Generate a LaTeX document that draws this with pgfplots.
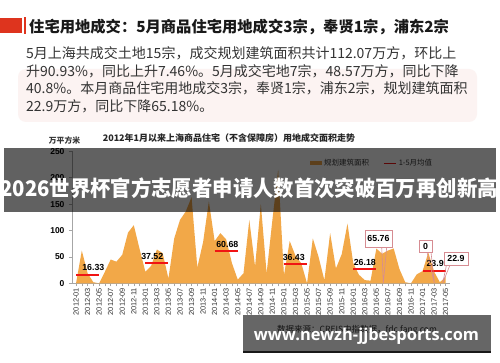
\documentclass[border=0pt]{standalone}
\usepackage{fontspec}
\usepackage{pgfplots}
\pgfplotsset{compat=1.18}
\setmainfont{Noto Sans CJK SC}
\newfontfamily\lsans{Liberation Sans}
\newfontfamily\osans{Open Sans}
\definecolor{areaC}{RGB}{242,168,72}
\definecolor{hdrred}{RGB}{222,52,30}
\definecolor{txt}{RGB}{51,51,51}
\definecolor{pinkbg}{RGB}{252,243,242}
\definecolor{callb}{RGB}{214,140,146}
\definecolor{avgred}{RGB}{240,20,20}
\begin{document}
\begin{tikzpicture}[x=1pt,y=1pt]
\path[use as bounding box] (0,0) rectangle (500,362);
\fill[white] (0,0) rectangle (500,362);
% header
\fill[hdrred] (0,362-33) rectangle (22,362-18);
\fill[hdrred] (23.5,362-34) rectangle (26,362-17);
\node[anchor=west, inner sep=0, font=\bfseries\fontsize{15.3}{17}\selectfont, text=black!90] at (29,362-27.5) {住宅用地成交：5月商品住宅用地成交3宗，奉贤1宗，浦东2宗};
\fill[pinkbg, rounded corners=8pt] (18,362-122) rectangle (477,362-69);
\begin{scope}[every node/.style={anchor=west, inner sep=0, text=txt, font=\fontsize{14}{16}\selectfont}]
\node at (26,362-53) {5月上海共成交土地15宗，成交规划建筑面积共计112.07万方，环比上};
\node at (26,362-71) {升90.93\%，同比上升7.46\%。5月成交宅地7宗，48.57万方，同比下降};
\node at (26,362-88) {40.8\%。本月商品住宅用地成交3宗，奉贤1宗，浦东2宗，规划建筑面积};
\node at (26,362-106) {22.9万方，同比下降65.18\%。};
\end{scope}
% chart titles
\node[font=\bfseries\fontsize{9}{10}\selectfont, text=black!85] at (229,362-138.5) {2012年1月以来上海商品住宅（不含保障房）用地成交面积走势};
\node[font=\bfseries\fontsize{7.8}{9}\selectfont, text=black!80] at (64.5,362-140.5) {万平方米};
\begin{axis}[
  at={(76.04pt,78.7pt)}, anchor=origin,
  scale only axis, width=377.7pt, height=132pt,
  xmin=-0.7, xmax=64.7, ymin=0, ymax=250,
  axis x line*=bottom, axis y line*=left,
  axis line style={draw=gray!70, line width=0.6pt, -},
  xtick={0,2,...,64}, minor xtick={1,3,...,63},
  xticklabels={2012-01,2012-03,2012-05,2012-07,2012-09,2012-11,2013-01,2013-03,2013-05,2013-07,2013-09,2013-11,2014-01,2014-03,2014-05,2014-07,2014-09,2014-11,2015-01,2015-03,2015-05,2015-07,2015-09,2015-11,2016-01,2016-03,2016-05,2016-07,2016-09,2016-11,2017-01,2017-03,2017-05},
  xticklabel style={rotate=90, anchor=east, font=\lsans\fontsize{7.4}{8}\selectfont, text=txt, inner sep=1.5pt},
  ytick={0,50,...,250},
  yticklabel style={font=\lsans\bfseries\fontsize{8.5}{9}\selectfont, text=black, xshift=-1pt},
  /pgf/number format/assume math mode=true,
  tick style={draw=gray!70, line width=0.5pt},
  tick align=outside, major tick length=3pt, minor tick length=3pt,
  clip=false,
  legend style={at={(0.630,0.909)}, anchor=west, draw=none, fill=none, legend columns=2,
    font=\fontsize{7.5}{8}\selectfont, text=txt, inner sep=0pt,
    /tikz/every even column/.append style={column sep=12pt}},
  legend cell align=left,
]
\addplot[fill=areaC, draw=none,
  legend image code/.code={\fill[areaC] (0pt,-2pt) rectangle (12pt,2.5pt);}]
coordinates {(0,0)(1,62)(2,19)(3,2)(4,0)(5,22)(6,45)(7,41)(8,54)(9,96)(10,110)(11,65)(12,22)(13,33)(14,64)(15,57)(16,9)(17,85)(18,120)(19,136)(20,163)(21,30)(22,78)(23,155)(24,80)(25,95)(26,83)(27,38)(28,7)(29,19)(30,120)(31,32)(32,150)(33,19)(34,120)(35,215)(36,15)(37,80)(38,52)(39,38)(40,0)(41,85)(42,50)(43,6)(44,95)(45,28)(46,55)(47,113)(48,38)(49,16)(50,6)(51,5)(52,65.76)(53,56)(54,62)(55,66)(56,27)(57,2)(58,0)(59,17)(60,23)(61,58)(62,22)(63,2)(64,12)} \closedcycle;
\addlegendentry{规划建筑面积}
\addplot[avgred, line width=2pt,
  legend image code/.code={\draw[avgred,line width=1.6pt] (0pt,0pt) -- (12pt,0pt);}]
coordinates {(0,16.33)(4,16.33)};
\addlegendentry{1-5月均值}
\addplot[avgred, line width=2pt, forget plot] coordinates {(12,37.52)(16,37.52)};
\addplot[avgred, line width=2pt, forget plot] coordinates {(24,60.68)(28,60.68)};
\addplot[avgred, line width=2pt, forget plot] coordinates {(36,36.43)(40,36.43)};
\addplot[avgred, line width=2pt, forget plot] coordinates {(48,26.18)(52,26.18)};
\addplot[avgred, line width=2pt, forget plot] coordinates {(60,23.99)(64,23.99)};
\begin{scope}[every node/.style={anchor=south, inner sep=0pt, yshift=3.5pt, font=\lsans\bfseries\fontsize{8.8}{9}\selectfont}]
\node at (axis cs:3.0,16.33) {16.33};
\node at (axis cs:13.2,37.52) {37.52};
\node at (axis cs:26.2,60.68) {60.68};
\node at (axis cs:37.7,36.43) {36.43};
\node at (axis cs:50.0,26.18) {26.18};
\node at (axis cs:62.6,23.99) {23.99};
\end{scope}
\end{axis}
% callouts
\begin{scope}[every node/.style={inner sep=0pt, font=\lsans\bfseries\fontsize{8.8}{9}\selectfont}]
\draw[callb, line width=0.6pt] (381.7,362-247) -- (383.3,362-283) -- (386.7,362-247);
\filldraw[fill=white, draw=callb, line width=0.8pt] (365,362-247) rectangle (392,362-230);
\node at (378.5,362-238.5) {65.76};
\draw[callb, line width=0.6pt] (427,362-252) -- (434.3,362-283) -- (431,362-252);
\filldraw[fill=white, draw=callb, line width=0.8pt] (419,362-252) rectangle (432,362-240);
\node at (425.5,362-246) {0};
\draw[callb, line width=0.6pt] (446.5,362-265) -- (442.7,362-283) -- (450,362-265);
\filldraw[fill=white, draw=callb, line width=0.8pt] (444,362-265) rectangle (468,362-252);
\node at (456,362-258.5) {22.9};
\end{scope}
% source
\node[anchor=west, inner sep=0, font=\fontsize{8.5}{9}\selectfont, text=txt] at (277,362-330) {数据来源：CREIS中指数据，fdc.fang.com};
% overlay banners
\fill[black, opacity=0.62] (4,362-212) rectangle (496,362-148);
\node[text=white, inner sep=0, font=\bfseries\fontsize{21.5}{24}\selectfont] at (249,362-188.5) {\scalebox{0.947}[1]{2026世界杯官方志愿者申请人数首次突破百万再创新高}};
\fill[black, opacity=0.6] (243,362-350.7) rectangle (491,362-315);
\fill[black!90] (243,362-353) rectangle (491,362-350.7);
\node[text=white, inner sep=0, font=\osans\bfseries\fontsize{16.4}{18}\selectfont] at (366.5,362-336) {www.newzh-jjbesports.com};
\end{tikzpicture}
\end{document}
